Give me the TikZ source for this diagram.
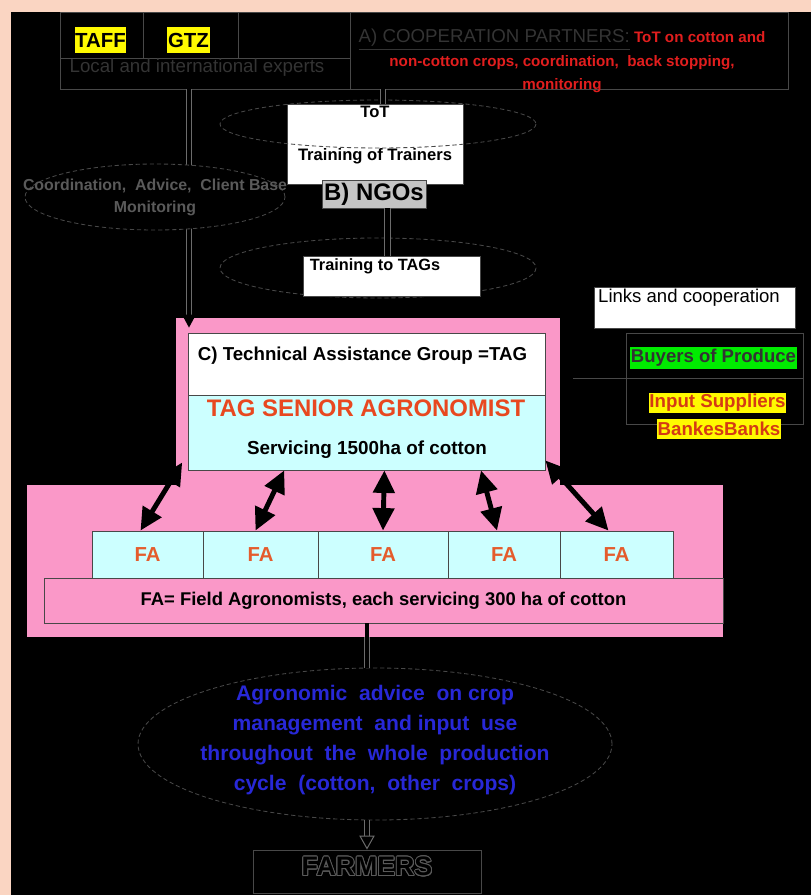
\documentclass[tikz,border=0pt]{standalone}
\usepackage{fontspec}
\setmainfont{Liberation Sans}
\usepackage{contour}
\usetikzlibrary{arrows.meta,calc,shapes.geometric}

\definecolor{peach}{RGB}{250,213,194}
\definecolor{rosepink}{RGB}{250,152,200}
\definecolor{tagcyan}{RGB}{204,255,255}
\definecolor{framegray}{RGB}{72,72,72}
\definecolor{wiregray}{RGB}{108,108,108}
\definecolor{dimgray}{RGB}{52,52,52}
\definecolor{softgray}{RGB}{90,90,90}
\definecolor{ngogray}{RGB}{196,196,196}
\definecolor{alertred}{RGB}{226,30,30}
\definecolor{tagorange}{RGB}{232,72,32}
\definecolor{faorange}{RGB}{228,92,44}
\definecolor{advblue}{RGB}{40,40,215}
\definecolor{buygreen}{RGB}{0,235,0}
\definecolor{markyellow}{RGB}{255,250,0}
\definecolor{supplyred}{RGB}{212,58,20}

% one unit = one pixel of the chart
\newcommand\pu{0.025cm}
\contourlength{0.7pt}

\tikzset{
  rule/.style={draw=framegray, line width=0.6pt},
  frame/.style={rule, inner sep=0pt},
  whitebox/.style={frame, fill=white},
  dashline/.style={draw=framegray, line width=0.6pt, dash pattern=on 3pt off 2pt},
  dbl/.style={draw=wiregray, line width=0.7pt, double=black, double distance=3.5pt},
  hilite/.style={fill=#1, inner xsep=0.5pt, inner ysep=0pt},
  lbl/.style={inner sep=0pt},
  biglink/.style={line width=3.5pt, {Triangle[length=16pt,width=15pt]}-{Triangle[length=16pt,width=15pt]}},
  fabox/.style={frame, fill=tagcyan, minimum height=47*\pu, text=faorange,
    font=\bfseries\fontsize{14.4}{17}\selectfont},
}

\begin{document}
\begin{tikzpicture}[x=\pu, y=-\pu]
  \useasboundingbox (0,0) rectangle (811,895);
  \fill[peach] (0,0) rectangle (811,895);
  \fill[black] (11,12) rectangle (811,895);

  % partners along the top
  \node[frame, minimum width=728*\pu, minimum height=77*\pu] (partners) at (424,50.5) {};
  \draw[rule] (60,58) -- (350,58) (143,12) -- (143,58) (238,12) -- (238,58) (350,12) -- (350,89);
  \node[hilite=markyellow, minimum height=26*\pu, font=\bfseries\fontsize{14.5}{17}\selectfont] (taff) at (100.5,40) {TAFF};
  \node[hilite=markyellow, minimum height=26*\pu, font=\bfseries\fontsize{14.5}{17}\selectfont] (gtz) at (188.5,40) {GTZ};
  \node[lbl, text=dimgray, font=\fontsize{13.3}{16}\selectfont] (experts) at (197,68) {Local and international experts};
  \node[lbl, align=center, text=alertred, font=\bfseries\fontsize{10.8}{16.5}\selectfont] (coop) at (562,61)
    {{\mdseries\fontsize{13.3}{16.5}\selectfont\color{dimgray}\underline{A) COOPERATION PARTNERS:}} ToT on cotton and\\
     non-cotton crops, coordination,\ \ back stopping,\\ monitoring};

  % advice line on the left
  \coordinate (feedx) at (189,0);
  \node[frame, fill=rosepink, draw=none, minimum width=384*\pu, minimum height=167*\pu] (tagpink) at (368,401.5) {};
  \node[frame, fill=rosepink, draw=none, minimum width=696*\pu, minimum height=152*\pu] (fapink) at (375,561) {};
  \draw[dbl] (partners.south -| feedx) -- (tagpink.north -| feedx);
  \fill[black] ($(tagpink.north -| feedx) + (-7,-3)$) -- ++(14,0) -- ++(-7,13) -- cycle;
  \node[ellipse, dashline, fill=black, minimum width=260*\pu, minimum height=66*\pu, inner sep=0pt] (coord) at (155,197) {};
  \node[lbl, align=center, text=softgray, font=\bfseries\fontsize{11.3}{15.6}\selectfont] at (coord.center)
    {Coordination,\ \ Advice,\ \ Client Base\\ Monitoring};

  % trainers and NGOs
  \node[whitebox, minimum width=176*\pu, minimum height=80*\pu] (tot) at (375,144) {};
  \node[lbl, font=\bfseries\fontsize{11.8}{14}\selectfont] at (375,112) {ToT};
  \node[lbl, font=\bfseries\fontsize{11.8}{14}\selectfont] at (375,156) {Training of Trainers};
  \draw[dashline] (378,124) ellipse [x radius=158, y radius=24];
  \draw[dbl] ([xshift=8*\pu]partners.south -| tot.north) -- ([xshift=8*\pu]tot.north);
  \node[frame, fill=ngogray, minimum width=104*\pu, minimum height=28*\pu,
    font=\bfseries\fontsize{17}{20}\selectfont] (ngos) at (374,194) {B) NGOs};
  \draw[dashline] (378,268) ellipse [x radius=158, y radius=30];
  \node[whitebox, minimum width=177*\pu, minimum height=40*\pu] (tags) at (391.5,276) {};
  \node[lbl, font=\bfseries\fontsize{11.6}{14}\selectfont] at (375,266) {Training to TAGs};
  \draw[dbl] ([xshift=-4*\pu]ngos.south -| tags.north) -- ([xshift=-4*\pu]tags.north);

  % links to the market
  \node[whitebox, minimum width=201*\pu, minimum height=41*\pu] (links) at (694.5,307.5) {};
  \node[lbl, font=\fontsize{13.2}{16}\selectfont] at (689,298) {Links and cooperation};
  \node[frame, minimum width=177*\pu, minimum height=91*\pu] (market) at (714.5,378.5) {};
  \draw[rule] (market.west) -- (market.east);
  \node[hilite=buygreen, minimum height=22*\pu, text=black!80, font=\bfseries\fontsize{13.2}{16}\selectfont] (buyers) at (713.5,358) {Buyers of Produce};
  \node[hilite=markyellow, minimum height=20*\pu, text=supplyred, font=\bfseries\fontsize{13.3}{16}\selectfont] (inputs) at (717.5,403) {Input Suppliers};
  \node[hilite=markyellow, minimum height=20*\pu, text=supplyred, font=\bfseries\fontsize{13.3}{16}\selectfont] (banks) at (719,429) {BankesBanks};
  \draw[rule] ([xshift=13*\pu]tagpink.east |- market.west) -- (market.west);

  % technical assistance group
  \node[whitebox, minimum width=357*\pu, minimum height=62*\pu] (tagtitle) at (366.5,364) {};
  \node[lbl, font=\bfseries\fontsize{13.3}{16}\selectfont] at (362.5,356) {C) Technical Assistance Group =TAG};
  \node[frame, fill=tagcyan, minimum width=357*\pu, minimum height=75*\pu] (tagbox) at (366.5,432.5) {};
  \node[lbl, text=tagorange, font=\bfseries\fontsize{17}{20}\selectfont] at (366,408) {TAG SENIOR AGRONOMIST};
  \node[lbl, font=\bfseries\fontsize{13.4}{16}\selectfont] at (367,450) {Servicing 1500ha of cotton};

  % field agronomists
  \foreach \l/\r [count=\i] in {92/203, 203/318, 318/448, 448/560, 560/673}
    \node[fabox, minimum width=(\r-\l)*\pu] (fa\i) at ({(\l+\r)/2},554.5) {FA};
  \node[frame, fill=rosepink, minimum width=679*\pu, minimum height=45*\pu,
    font=\bfseries\fontsize{13.1}{16}\selectfont] (legend) at (383.5,600.5)
    {FA= Field Agronomists,\ each servicing 300 ha of cotton};
  \foreach \f/\i/\d/\u in {-0.015/1/-7/8, 0.27/2/-5/0, 0.55/3/0/0, 0.82/4/-7/0, 1.0/5/-8/10}
    \draw[biglink] ($(tagbox.south west)!\f!(tagbox.south east) + (0,-\u)$) -- ([xshift=\d*\pu]fa\i.north);

  % advice to the farmers
  \node[frame, minimum width=228*\pu, minimum height=43*\pu] (farmers) at (367,871.5) {};
  \node[lbl, font=\bfseries\fontsize{19}{22}\selectfont] at (367,867) {\contour{softgray}{FARMERS}};
  \node[ellipse, dashline, fill=black, minimum width=474*\pu, minimum height=152*\pu, inner sep=0pt] (advice) at (375,744) {};
  \node[lbl, align=center, text=advblue, font=\bfseries\fontsize{15}{21.3}\selectfont] at (375,740)
    {Agronomic\ \ advice\ \ on crop\\ management\ \ and input\ \ use\\
     throughout\ \ the\ \ whole\ \ production\\ cycle\ \ (cotton,\ \ other\ \ crops)};
  \draw[line width=3.5pt] (legend.south -| farmers.north) -- (fapink.south -| farmers.north);
  \draw[dbl] (fapink.south -| farmers.north) -- (advice.north -| farmers.north);
  \draw[dbl, -{Triangle[open,length=10pt,width=11pt]}] (advice.south -| farmers.north) -- (farmers.north);
\end{tikzpicture}
\end{document}
